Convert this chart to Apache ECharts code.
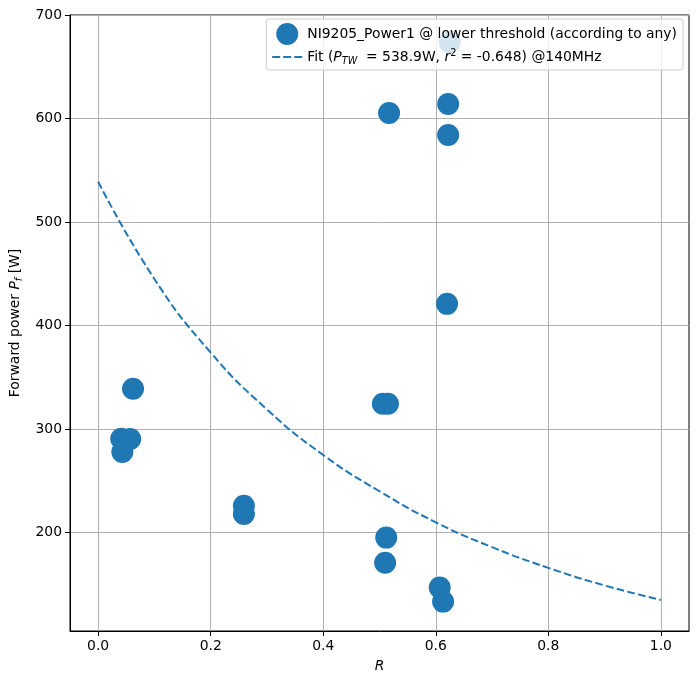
<!DOCTYPE html>
<html>
<head>
<meta charset="utf-8">
<script src="https://cdn.jsdelivr.net/npm/echarts@6/dist/echarts.min.js"></script>
<style>
html,body{margin:0;padding:0;background:#fff;}
#chart{width:699px;height:683px;}
</style>
</head>
<body>
<div id="chart"></div>
<script>
// measured points (R, forward power)
const pointR = [0.041, 0.057, 0.043, 0.062, 0.259, 0.259, 0.506, 0.515, 0.512, 0.510, 0.607, 0.613, 0.620, 0.517, 0.622, 0.622, 0.625];
const pointP = [290.7, 290.5, 278.0, 339.0, 226.0, 218.0, 324.5, 324.5, 195.2, 171.0, 147.0, 133.4, 421.0, 605.4, 614.0, 584.0, 674.0];
// fit curve
const fitR = [0.0, 0.1, 0.2, 0.3, 0.4, 0.5, 0.6, 0.7, 0.8, 0.9, 1.0];
const fitP = [539, 445, 374, 319, 275, 240, 210, 186, 166, 149, 135];
const xTicks = [0.0, 0.2, 0.4, 0.6, 0.8, 1.0];
const yTicks = [200, 300, 400, 500, 600, 700];

const blue = '#1f77b4';
const font = 'DejaVu Sans';
const fs = 13.9;
let chart = echarts.init(document.getElementById('chart'));

let scatterData = pointR.map(function (r, i) { return [r, pointP[i]]; });
let fitData = fitR.map(function (r, i) { return [r, fitP[i]]; });

chart.setOption({
  animation: false,
  textStyle: {fontFamily: font},
  grid: {left: 70, right: 10, top: 15, bottom: 52, show: true, borderColor: '#000', borderWidth: 1},
  legend: {
    orient: 'vertical',
    right: 16,
    top: 19,
    itemWidth: 30,
    itemHeight: 22,
    itemGap: 3,
    padding: [4, 6, 4, 6],
    backgroundColor: 'rgba(255,255,255,0.8)',
    borderColor: '#cccccc',
    borderWidth: 1,
    borderRadius: 3,
    data: [
      {name: 'scatter', icon: 'circle'},
      {name: 'fit', icon: 'path://M0,0h8v2h-8zM11,0h8v2h-8zM22,0h8v2h-8z', itemStyle: {color: blue}}
    ],
    formatter: function (name) {
      if (name === 'scatter') return '{n|NI9205_Power1 @ lower threshold (according to any)}';
      return '{n|Fit (}{i|P}{sub|TW}{n|  = 538.9W, }{i|r}{sup|2}{n| = -0.648) @140MHz}';
    },
    textStyle: {
      color: '#000',
      fontSize: fs,
      rich: {
        n: {fontSize: fs, fontFamily: font, color: '#000'},
        i: {fontSize: fs, fontFamily: font, fontStyle: 'italic', color: '#000'},
        sub: {fontSize: 9.7, fontFamily: font, fontStyle: 'italic', color: '#000', padding: [8, 0, 0, 0]},
        sup: {fontSize: 9.7, fontFamily: font, color: '#000', padding: [0, 0, 8, 0]}
      }
    }
  },
  xAxis: {
    type: 'value',
    min: -0.05,
    max: 1.05,
    name: 'R',
    nameLocation: 'middle',
    nameGap: 28,
    nameTextStyle: {fontStyle: 'italic', fontSize: fs, color: '#000', fontFamily: font},
    axisLine: {show: true, onZero: false, lineStyle: {color: '#000'}},
    axisTick: {show: true, length: 5, lineStyle: {color: '#000'}, customValues: xTicks},
    axisLabel: {color: '#000', fontSize: fs, margin: 8, customValues: xTicks,
      formatter: function (v) { return v.toFixed(1); }},
    splitLine: {show: true, lineStyle: {color: '#b0b0b0', width: 1}}
  },
  yAxis: {
    type: 'value',
    min: 105,
    max: 700,
    name: 'Forward power {i|P}{sub|f} [W]',
    nameLocation: 'middle',
    nameGap: 43,
    nameTextStyle: {fontSize: fs, color: '#000', fontFamily: font,
      rich: {
        i: {fontSize: fs, fontStyle: 'italic', fontFamily: font, color: '#000'},
        sub: {fontSize: 9.7, fontStyle: 'italic', fontFamily: font, color: '#000', padding: [8, 0, 0, 0]}
      }},
    axisLine: {show: true, onZero: false, lineStyle: {color: '#000'}},
    axisTick: {show: true, length: 5, lineStyle: {color: '#000'}, customValues: yTicks},
    axisLabel: {color: '#000', fontSize: fs, margin: 8, customValues: yTicks},
    splitLine: {show: true, lineStyle: {color: '#b0b0b0', width: 1}}
  },
  series: [{
    name: 'scatter',
    type: 'scatter',
    symbolSize: 22,
    itemStyle: {color: blue, opacity: 1},
    data: scatterData
  }, {
    name: 'fit',
    type: 'line',
    symbol: 'none',
    smooth: true,
    itemStyle: {color: blue},
    lineStyle: {color: blue, width: 2, type: [7.7, 3.3]},
    data: fitData
  }]
});
</script>
</body>
</html>
